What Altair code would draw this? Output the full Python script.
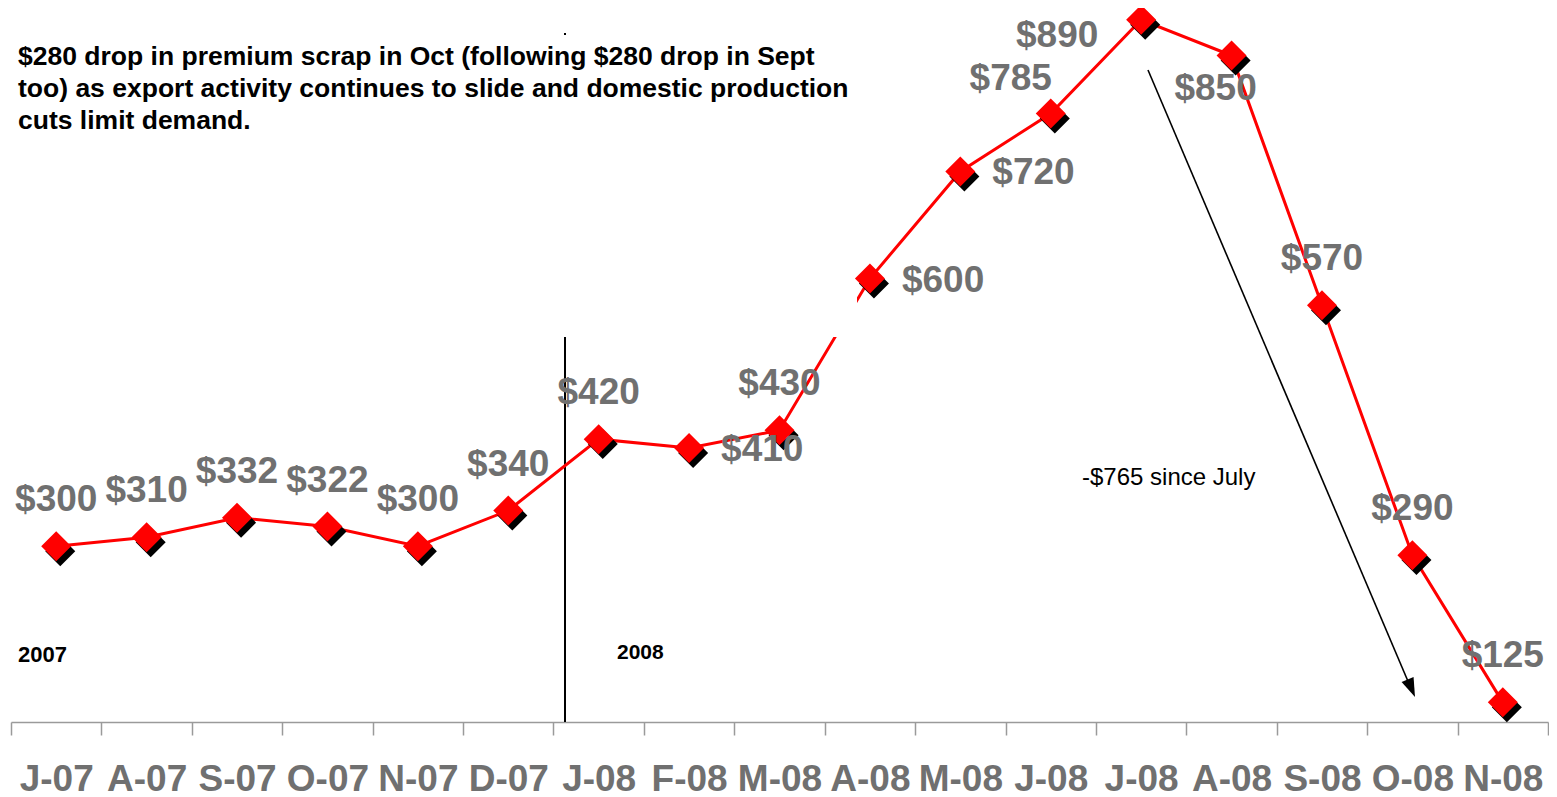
import altair as alt
import pandas as pd

# ---- data ----
months = ["2007-07", "2007-08", "2007-09", "2007-10", "2007-11", "2007-12",
          "2008-01", "2008-02", "2008-03", "2008-04", "2008-05", "2008-06",
          "2008-07", "2008-08", "2008-09", "2008-10", "2008-11"]
month_labels = ["J-07", "A-07", "S-07", "O-07", "N-07", "D-07",
                "J-08", "F-08", "M-08", "A-08", "M-08", "J-08",
                "J-08", "A-08", "S-08", "O-08", "N-08"]
prices = [300, 310, 332, 322, 300, 340, 420, 410, 430, 600, 720, 785,
          890, 850, 570, 290, 125]

title_lines = ["$280 drop in premium scrap in Oct (following $280 drop in Sept",
               "too) as export activity continues to slide and domestic production",
               "cuts limit demand."]
note_text = "-$765 since July"
year_labels = ["2007", "2008"]

# label placement groups
right_group = ["2008-02", "2008-04", "2008-05"]
special_785 = ["2008-06"]
special_890 = ["2008-07"]
special_850 = ["2008-08"]
above_group = [m for m in months if m not in right_group + special_785 + special_890 + special_850]

df = pd.DataFrame({"month": months, "price": prices})

FONT = "Liberation Sans"
GRAY = "#707070"

label_expr = "[" + ",".join(f"'{l}'" for l in month_labels) + "][indexof([" + \
    ",".join(f"'{m}'" for m in months) + "], datum.value)]"

x_enc = alt.X("month:O", sort=months, scale=alt.Scale(paddingInner=0, paddingOuter=0),
              axis=alt.Axis(title=None, labelAngle=0, labelExpr=label_expr,
                            labelFont=FONT, labelFontSize=37, labelFontWeight="bold",
                            labelColor=GRAY, labelBaseline="alphabetic", labelPadding=55,
                            labelOverlap=False, labelBound=False, labelFlush=False,
                            domainColor="#9a9a9a", domainWidth=1.5,
                            tickColor="#9a9a9a", tickWidth=1.5, tickSize=13,
                            tickBand="extent", grid=False))
y_enc = alt.Y("price:Q", scale=alt.Scale(domain=[103, 901], nice=False, zero=False), axis=None)

base = alt.Chart(df).encode(x=x_enc, y=y_enc)

one = alt.Data(values=[{"a": 1}])

# year separator line
sep = alt.Chart(one).mark_rule(color="black", strokeWidth=2).encode(
    x=alt.value(554), y=alt.value(23), y2=alt.value(712))

line = base.mark_line(color="#ff0000", strokeWidth=3)

# white box that covers part of the chart (as in the original)
cover = alt.Chart(one).mark_rect(color="white").encode(
    x=alt.value(480), x2=alt.value(846), y=alt.value(25), y2=alt.value(327))

shadow = base.mark_point(filled=True, color="black", opacity=1, size=900,
                         shape="M-0.73,0.33L0.27,-0.67L1.27,0.33L0.27,1.33Z")
diamonds = base.mark_point(filled=True, color="#ff0000", opacity=1, size=900, shape="diamond")

def labels(group, **kw):
    return base.transform_filter(
        alt.FieldOneOfPredicate(field="month", oneOf=group)
    ).transform_calculate(lbl="'$' + datum.price").mark_text(
        font=FONT, fontSize=37, fontWeight="bold", color=GRAY, baseline="alphabetic", **kw
    ).encode(text="lbl:N")

lab_above = labels(above_group, align="center", dx=0, dy=-35)
lab_right = labels(right_group, align="left", dx=32, dy=13)
lab_785 = labels(special_785, align="center", dx=-40, dy=-23)
lab_890 = labels(special_890, align="center", dx=-84, dy=27)
lab_850 = labels(special_850, align="center", dx=-16, dy=44)

title = alt.Chart(one).mark_text(
    text=title_lines, font=FONT, fontSize=26.5, fontWeight="bold", color="black",
    align="left", baseline="alphabetic", lineHeight=32
).encode(x=alt.value(7), y=alt.value(55))

y2007 = alt.Chart(one).mark_text(text=year_labels[0], font=FONT, fontSize=22, fontWeight="bold",
                                 color="black", align="left", baseline="alphabetic"
                                 ).encode(x=alt.value(7), y=alt.value(652))
y2008 = alt.Chart(one).mark_text(text=year_labels[1], font=FONT, fontSize=21, fontWeight="bold",
                                 color="black", align="left", baseline="alphabetic"
                                 ).encode(x=alt.value(606), y=alt.value(649))

note = alt.Chart(one).mark_text(text=note_text, font=FONT, fontSize=24, color="black",
                                align="left", baseline="alphabetic"
                                ).encode(x=alt.value(1071), y=alt.value(475))

arrow_line = alt.Chart(one).mark_rule(color="black", strokeWidth=1.6).encode(
    x=alt.value(1137), y=alt.value(60), x2=alt.value(1399), y2=alt.value(676))
arrow_head = alt.Chart(one).mark_point(filled=True, color="black", opacity=1, size=400,
                                       shape="M0,0L-0.65,-1.9L0.65,-1.9Z", angle=337
                                       ).encode(x=alt.value(1404), y=alt.value(687))

chart = alt.layer(
    sep, line, cover, shadow, diamonds,
    lab_above, lab_right, lab_785, lab_890, lab_850,
    title, y2007, y2008, note, arrow_line, arrow_head
).properties(
    width=1537, height=712,
    autosize=alt.AutoSizeParams(type="none"),
    padding={"left": 3, "top": 2, "right": 1, "bottom": 80}
).configure_view(stroke=None)

chart.save("out.html", embed_options={"renderer": "svg", "actions": False})
